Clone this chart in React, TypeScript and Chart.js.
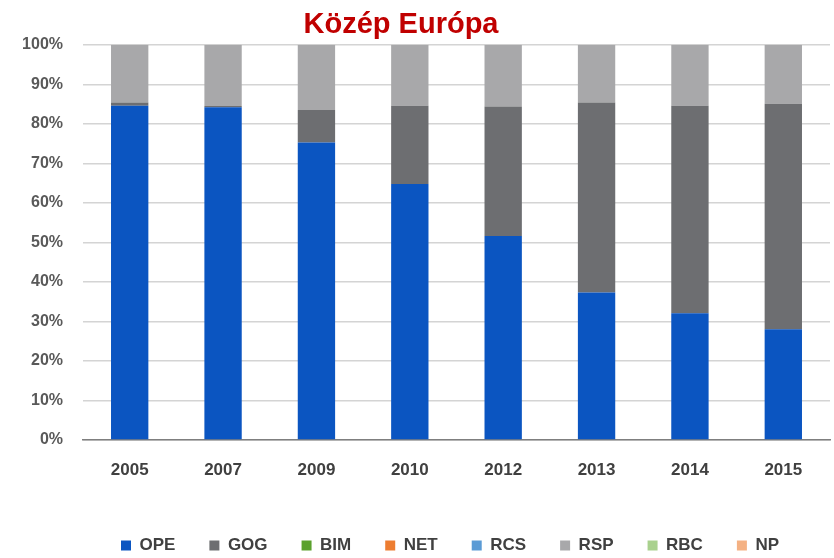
import React, { useEffect, useRef } from "react";
import { Chart, registerables } from "chart.js";

Chart.register(...registerables);

const years = ["2005", "2007", "2009", "2010", "2012", "2013", "2014", "2015"];
const ope = [84.6, 84.2, 75.3, 64.8, 51.6, 37.3, 32.1, 28.0];
const gog = [0.8, 0.3, 8.2, 19.8, 32.8, 48.1, 52.5, 57.1];
const bim = [0, 0, 0, 0, 0, 0, 0, 0];
const net = [0, 0, 0, 0, 0, 0, 0, 0];
const rcs = [0, 0, 0, 0, 0, 0, 0, 0];
const rsp = [14.6, 15.5, 16.5, 15.4, 15.6, 14.6, 15.4, 14.9];
const rbc = [0, 0, 0, 0, 0, 0, 0, 0];
const np = [0, 0, 0, 0, 0, 0, 0, 0];
const yTicks = [0, 10, 20, 30, 40, 50, 60, 70, 80, 90, 100];
const title = "Közép Európa";

const FONT = "'Liberation Sans', Arial, sans-serif";

const shiftPlugin = {
  id: "shiftBoxes",
  afterLayout(chart: any) {
    const lg = chart.legend;
    if (lg) {
      lg.left += 35;
      lg.right += 35;
    }
    const tb = chart.titleBlock;
    if (tb) {
      tb.left -= 14;
      tb.right -= 14;
    }
  },
};

export default function App() {
  const ref = useRef<HTMLCanvasElement | null>(null);
  useEffect(() => {
    if (!ref.current) return;
    const series = [
      { label: "OPE", data: ope, color: "#0b55c1" },
      { label: "GOG", data: gog, color: "#6d6e71" },
      { label: "BIM", data: bim, color: "#5ba12d" },
      { label: "NET", data: net, color: "#ed7d31" },
      { label: "RCS", data: rcs, color: "#5b9bd5" },
      { label: "RSP", data: rsp, color: "#a8a8aa" },
      { label: "RBC", data: rbc, color: "#a9d18e" },
      { label: "NP", data: np, color: "#f4b183" },
    ];
    const chart = new Chart(ref.current, {
      type: "bar",
      data: {
        labels: years,
        datasets: series.map((s) => ({
          label: s.label,
          data: s.data,
          backgroundColor: s.color,
          borderWidth: 0,
          barPercentage: 0.4,
          categoryPercentage: 1,
        })),
      },
      plugins: [shiftPlugin],
      options: {
        animation: false,
        responsive: false,
        layout: { padding: { right: 4, bottom: 0 } },
        plugins: {
          title: {
            display: true,
            text: title,
            color: "#c00000",
            font: { family: FONT, size: 29, weight: "bold" },
            padding: { top: 8, bottom: 2 },
          },
          legend: {
            position: "bottom",
            labels: {
              boxWidth: 10,
              boxHeight: 10,
              padding: 34,
              color: "#404040",
              font: { family: FONT, size: 17, weight: "bold" },
            },
          },
          tooltip: { enabled: false },
        },
        scales: {
          x: {
            stacked: true,
            grid: { display: false, drawTicks: false },
            border: { color: "#7f7f7f", width: 1.5 },
            ticks: {
              color: "#404040",
              padding: 20,
              font: { family: FONT, size: 17, weight: "bold" },
            },
            afterFit: (scale: any) => {
              scale.height = 63;
            },
          },
          y: {
            stacked: true,
            min: 0,
            max: 100,
            afterBuildTicks: (scale: any) => {
              scale.ticks = yTicks.map((v) => ({ value: v }));
            },
            grid: { color: "#d4d4d4", lineWidth: 1.5, drawTicks: false },
            border: { display: false },
            ticks: {
              color: "#595959",
              padding: 20,
              font: { family: FONT, size: 16, weight: "bold" },
              callback: (v: any) => v + "%",
            },
            afterFit: (scale: any) => {
              scale.width = 83;
            },
          },
        },
      },
    });
    return () => chart.destroy();
  }, []);
  return (
    <div style={{ position: "fixed", left: 0, top: 0, width: 834, height: 558, overflow: "hidden", background: "#fff" }}>
      <canvas ref={ref} width={834} height={564} style={{ display: "block" }} />
    </div>
  );
}
